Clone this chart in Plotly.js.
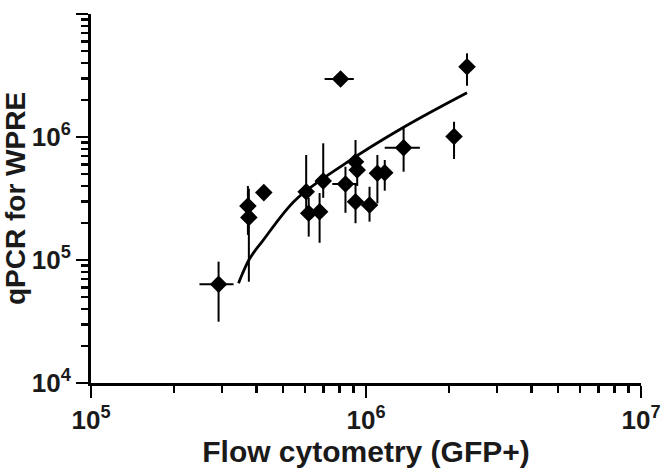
<!DOCTYPE html>
<html>
<head>
<meta charset="utf-8">
<script src="https://cdn.plot.ly/plotly-3.0.1.min.js"></script>
<style>
  html, body { margin: 0; padding: 0; background: #fff; }
  #chart { width: 664px; height: 473px; }
</style>
</head>
<body>
<div id="chart"></div>
<script>
// Measured points (flow cytometry GFP+ vs qPCR WPRE)
const flowX = [2.91e5, 3.72e5, 3.75e5, 4.25e5, 6.06e5, 6.19e5, 6.78e5, 6.99e5, 8.08e5, 8.42e5,
               9.16e5, 9.29e5, 9.16e5, 1.03e6, 1.10e6, 1.17e6, 1.37e6, 2.09e6, 2.33e6];
const qpcrY = [6.34e4, 2.75e5, 2.22e5, 3.53e5, 3.59e5, 2.40e5, 2.47e5, 4.39e5, 2.96e6, 4.15e5,
               6.30e5, 5.39e5, 2.98e5, 2.80e5, 5.07e5, 5.13e5, 8.18e5, 1.01e6, 3.73e6];
// Error bar ends
const yUpper = [9.69e4, 4.0e5, 3.8e5, 3.53e5, 7.14e5, 3.2e5, 3.5e5, 8.89e5, 2.96e6, 5.73e5,
                9.45e5, 6.3e5, 4.07e5, 3.94e5, 7.14e5, 6.5e5, 1.19e6, 1.33e6, 4.79e6];
const yLower = [3.15e4, 1.6e5, 6.66e4, 3.53e5, 2.5e5, 1.55e5, 1.38e5, 3.2e5, 2.96e6, 2.42e5,
                4.9e5, 4.0e5, 1.99e5, 2.05e5, 2.89e5, 3.66e5, 5.22e5, 6.62e5, 2.61e6];
const xUpper = [3.30e5, 3.72e5, 3.75e5, 4.25e5, 6.06e5, 6.19e5, 6.78e5, 6.99e5, 9.03e5, 9.3e5,
                9.16e5, 9.29e5, 9.16e5, 1.03e6, 1.10e6, 1.17e6, 1.57e6, 2.09e6, 2.33e6];
const xLower = [2.48e5, 3.72e5, 3.75e5, 4.25e5, 6.06e5, 6.19e5, 6.78e5, 6.99e5, 7.07e5, 7.54e5,
                9.16e5, 9.29e5, 9.16e5, 1.03e6, 1.10e6, 1.17e6, 1.17e6, 2.09e6, 2.33e6];
// Fit line, points
const fitX = [3.44e5, 3.55e5, 3.75e5, 3.96e5, 4.19e5, 5.54e5, 8.42e5, 1.37e6, 2.33e6];
const fitY = [6.47e4, 7.69e4, 1.0e5, 1.2e5, 1.41e5, 3.08e5, 6.11e5, 1.20e6, 2.29e6];
// Tick labels
const xTickVals = [1e5, 1e6, 1e7];
const xTickText = ['10<sup>5</sup>', '10<sup>6</sup>', '10<sup>7</sup>'];
const yTickVals = [1e4, 1e5, 1e6, 1e7];
const yTickText = ['10<sup>4</sup>', '10<sup>5</sup>', '10<sup>6</sup>', '10<sup>7</sup>'];

const yPlus = yUpper.map((u, i) => u - qpcrY[i]);
const yMinus = yLower.map((l, i) => qpcrY[i] - l);
const xPlus = xUpper.map((u, i) => u - flowX[i]);
const xMinus = xLower.map((l, i) => flowX[i] - l);

const FONT = '"Liberation Sans", Arial, sans-serif';

const traces = [
  {
    x: fitX, y: fitY, type: 'scatter', mode: 'lines',
    line: { color: '#000', width: 2.8, shape: 'spline' },
    hoverinfo: 'skip'
  },
  {
    x: flowX, y: qpcrY, type: 'scatter', mode: 'markers',
    marker: { symbol: 'diamond', size: 13.5, color: '#000' },
    error_y: { type: 'data', symmetric: false, array: yPlus, arrayminus: yMinus,
               color: '#000', thickness: 2, width: 0 },
    error_x: { type: 'data', symmetric: false, array: xPlus, arrayminus: xMinus,
               color: '#000', thickness: 2, width: 0 }
  }
];

const axisCommon = {
  type: 'log',
  showgrid: false, zeroline: false,
  showline: true, linecolor: '#000', linewidth: 3,
  ticks: 'outside', ticklen: 12, tickwidth: 2.5, tickcolor: '#000',
  tickfont: { family: FONT, size: 26, color: '#1a1a1a', weight: 'bold' },
  minor: { ticks: 'outside', ticklen: 7, tickwidth: 2.5, tickcolor: '#000', dtick: 'D1' },
};

const layout = {
  width: 664, height: 473,
  margin: { l: 91, r: 23, t: 14, b: 90 },
  paper_bgcolor: '#fff', plot_bgcolor: '#fff',
  showlegend: false,
  xaxis: Object.assign({}, axisCommon, {
    range: [5, 7],
    tickmode: 'array', tickvals: xTickVals, ticktext: xTickText,
    title: { text: 'Flow cytometry (GFP+)', standoff: 6,
             font: { family: FONT, size: 30, color: '#1a1a1a', weight: 'bold' } }
  }),
  yaxis: Object.assign({}, axisCommon, {
    range: [4, 7],
    tickmode: 'array', tickvals: yTickVals, ticktext: yTickText,
    title: { text: 'qPCR for WPRE', standoff: 4,
             font: { family: FONT, size: 28, color: '#1a1a1a', weight: 'bold' } }
  })
};

Plotly.newPlot('chart', traces, layout, { displayModeBar: false, staticPlot: true });
</script>
</body>
</html>
